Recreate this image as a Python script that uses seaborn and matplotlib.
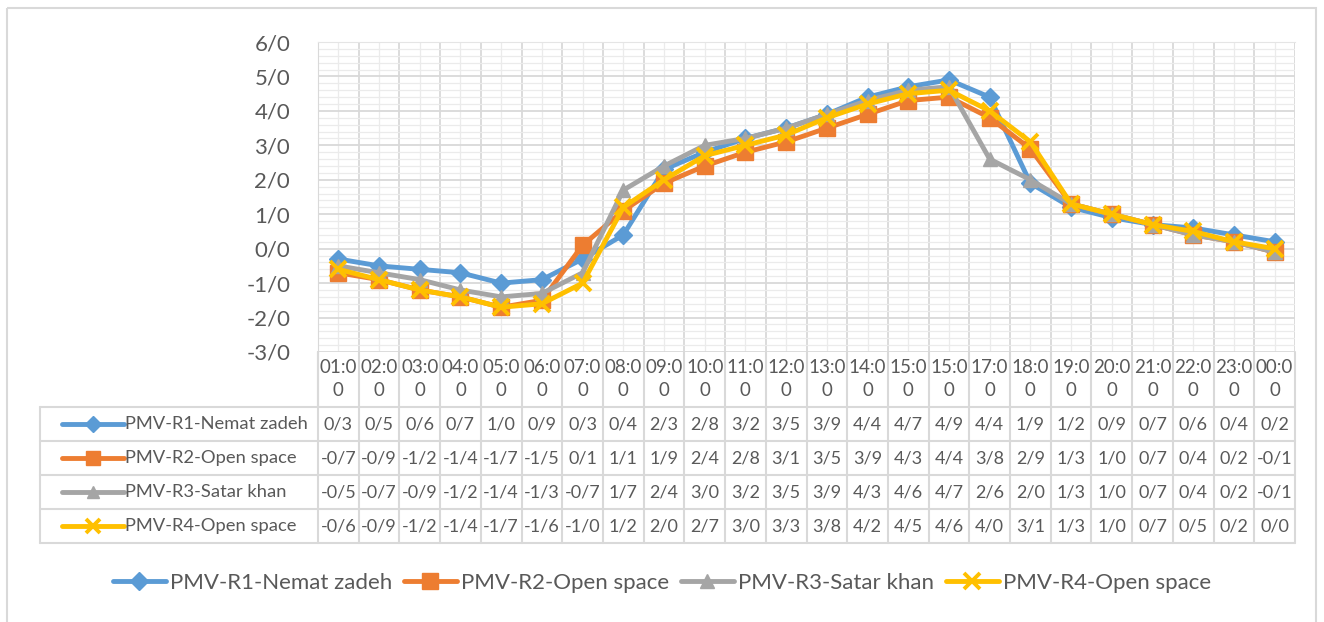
import numpy as np
import pandas as pd
import seaborn as sns
import matplotlib.pyplot as plt
from matplotlib.lines import Line2D
from matplotlib.patches import Rectangle
from matplotlib.transforms import blended_transform_factory

hours = ['01:00', '02:00', '03:00', '04:00', '05:00', '06:00', '07:00', '08:00',
         '09:00', '10:00', '11:00', '12:00', '13:00', '14:00', '15:00', '15:00',
         '17:00', '18:00', '19:00', '20:00', '21:00', '22:00', '23:00', '00:00']

r1 = [-0.3, -0.5, -0.6, -0.7, -1.0, -0.9, -0.3, 0.4, 2.3, 2.8, 3.2, 3.5,
      3.9, 4.4, 4.7, 4.9, 4.4, 1.9, 1.2, 0.9, 0.7, 0.6, 0.4, 0.2]
r2 = [-0.7, -0.9, -1.2, -1.4, -1.7, -1.5, 0.1, 1.1, 1.9, 2.4, 2.8, 3.1,
      3.5, 3.9, 4.3, 4.4, 3.8, 2.9, 1.3, 1.0, 0.7, 0.4, 0.2, -0.1]
r3 = [-0.5, -0.7, -0.9, -1.2, -1.4, -1.3, -0.7, 1.7, 2.4, 3.0, 3.2, 3.5,
      3.9, 4.3, 4.6, 4.7, 2.6, 2.0, 1.3, 1.0, 0.7, 0.4, 0.2, -0.1]
r4 = [-0.6, -0.9, -1.2, -1.4, -1.7, -1.6, -1.0, 1.2, 2.0, 2.7, 3.0, 3.3,
      3.8, 4.2, 4.5, 4.6, 4.0, 3.1, 1.3, 1.0, 0.7, 0.5, 0.2, 0.0]

names = ['PMV-R1-Nemat zadeh', 'PMV-R2-Open space', 'PMV-R3-Satar khan', 'PMV-R4-Open space']
series = [r1, r2, r3, r4]
colors = ['#5B9BD5', '#ED7D31', '#A5A5A5', '#FFC000']
markers = ['D', 's', '^', 'x']
msizes = [9, 11, 10, 11]
# the data table of the original prints R1 without minus signs
table_abs = [True, False, False, False]


def fmt(v, absval=False):
    if absval:
        v = abs(v)
    s = f"{v:.1f}"
    if s == '-0.0':
        s = '0.0'
    return s.replace('.', '/')


sns.set_style('white')
plt.rcParams['font.family'] = ['Lato', 'DejaVu Sans']
txt = '#595959'

W, H = 1324, 622
fig = plt.figure(figsize=(W / 100, H / 100), dpi=100)

# pixel canvas for frame and data table
tax = fig.add_axes([0, 0, 1, 1], zorder=0)
tax.set_xlim(0, W)
tax.set_ylim(H, 0)
tax.axis('off')

left_px, right_px, top_px, bot_px = 318, 1295, 42, 352
ax = fig.add_axes([left_px / W, 1 - bot_px / H, (right_px - left_px) / W, (bot_px - top_px) / H], zorder=1)
ax.patch.set_alpha(0)

x = np.arange(len(hours))
for vals, name, c, m, ms in zip(series, names, colors, markers, msizes):
    sns.lineplot(x=x, y=vals, ax=ax, color=c, linewidth=3.5, marker=m, markersize=ms,
                 markeredgecolor=c, markeredgewidth=2.8 if m == 'x' else 1, label=name,
                 legend=False, sort=False, zorder=3)

ax.set_xlim(-0.5, len(hours) - 0.5)
ax.set_ylim(-3, 6)
ax.set_yticks(np.arange(-3, 7, 1))
ax.set_yticklabels([fmt(v) for v in np.arange(-3, 7, 1)], fontsize=16, color=txt)
ax.set_yticks(np.arange(-3, 6.01, 0.2), minor=True)
ax.set_xticks(np.arange(-0.5, len(hours), 1))
ax.set_xticks(x, minor=True)
ax.set_xticklabels([])
ax.tick_params(axis='both', which='both', length=0)
ax.tick_params(axis='y', which='major', pad=20)
ax.grid(True, which='major', color='#D9D9D9', linewidth=1.3)
ax.grid(True, which='minor', color='#EBEBEB', linewidth=0.9)
for s in ax.spines.values():
    s.set_visible(False)
ax.spines['left'].set_visible(True)
ax.spines['left'].set_color('#D9D9D9')
ax.spines['top'].set_visible(True)
ax.spines['top'].set_color('#E5E5E5')

# data table under the axis
trans = blended_transform_factory(ax.transData, tax.transData)
grid_c = '#D9D9D9'
row_top = 407
row_h = 34
table_left = 40
n_rows = len(series)
table_bot = row_top + n_rows * row_h

for b in np.arange(-0.5, len(hours), 1):
    tax.plot([b, b], [bot_px, table_bot], color=grid_c, lw=1.5, transform=trans, zorder=1)
tax.plot([table_left, right_px], [row_top, row_top], color=grid_c, lw=1.5, zorder=1)
for i in range(n_rows):
    yb = row_top + (i + 1) * row_h
    tax.plot([table_left, right_px], [yb, yb], color=grid_c, lw=1.5, zorder=1)
tax.plot([table_left, table_left], [row_top, table_bot], color=grid_c, lw=1.5, zorder=1)
tax.plot([left_px, left_px], [bot_px, row_top], color=grid_c, lw=1.5, zorder=1)

for i, h in enumerate(hours):
    tax.text(i, 379, h[:4] + '\n' + h[4:], transform=trans, ha='center', va='center',
             fontsize=13.5, color=txt, linespacing=1.45)

for r, (vals, name, c, m, ms, ab) in enumerate(zip(series, names, colors, markers, msizes, table_abs)):
    yc = row_top + (r + 0.5) * row_h
    tax.plot([62, 124], [yc, yc], color=c, lw=3.5, zorder=2)
    tax.plot([93], [yc], marker=m, color=c, markersize=ms - 1, markeredgewidth=2.8 if m == 'x' else 1, zorder=3)
    tax.text(125, yc, name, ha='left', va='center', fontsize=13.2, color=txt)
    for i, v in enumerate(vals):
        tax.text(i, yc, fmt(v, ab), transform=trans, ha='center', va='center',
                 fontsize=13, color=txt)

tax.add_patch(Rectangle((7, 8), 1309, 640, fill=False, edgecolor='#D9D9D9', lw=1.5))

handles = [Line2D([], [], color=c, lw=3.5, marker=m, markersize=ms, markeredgewidth=2.8 if m == 'x' else 1)
           for c, m, ms in zip(colors, markers, msizes)]
leg = fig.legend(handles, names, loc='center', bbox_to_anchor=(0.5, 1 - 583 / H), ncol=4,
                 frameon=False, fontsize=16, handlelength=2.4, handletextpad=0.2, columnspacing=0.5)
for t in leg.get_texts():
    t.set_color(txt)

fig.savefig('out.png', dpi=100)
